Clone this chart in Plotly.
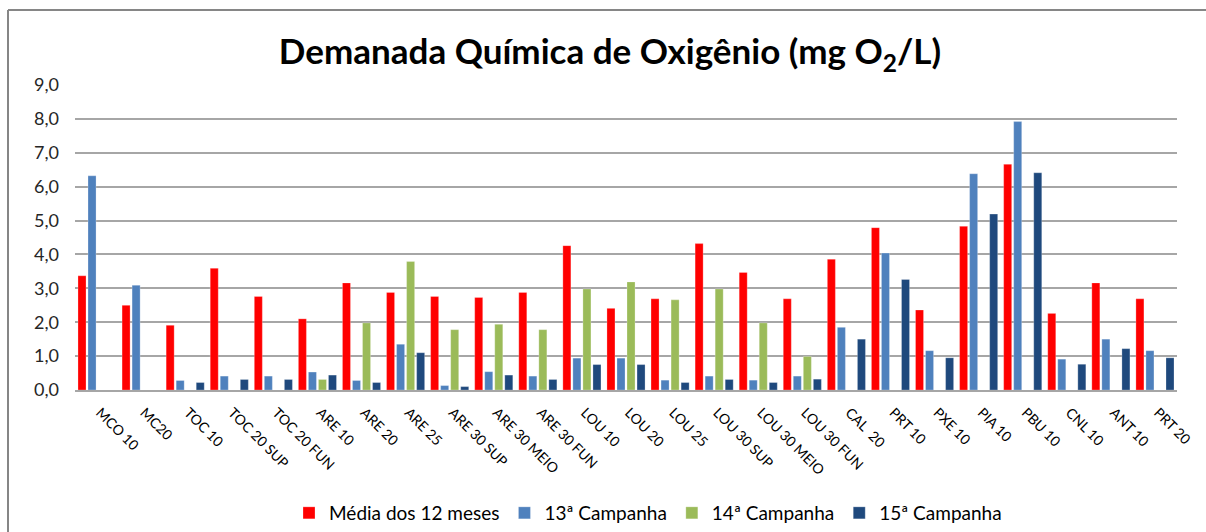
import plotly.graph_objects as go

categories = ["MCO 10", "MC20", "TOC 10", "TOC 20 SUP", "TOC 20 FUN", "ARE 10", "ARE 20",
              "ARE 25", "ARE 30 SUP", "ARE 30 MEIO", "ARE 30 FUN", "LOU 10", "LOU 20",
              "LOU 25", "LOU 30 SUP", "LOU 30 MEIO", "LOU 30 FUN", "CAL  20", "PRT 10",
              "PXE 10", "PIA 10", "PBU 10", "CNL 10", "ANT 10", "PRT 20"]

media_12_meses = [3.37, 2.50, 1.91, 3.59, 2.76, 2.10, 3.16, 2.88, 2.76, 2.73, 2.88, 4.26, 2.41,
                  2.69, 4.32, 3.47, 2.69, 3.86, 4.79, 2.36, 4.83, 6.66, 2.26, 3.16, 2.69]
campanha_13 = [6.32, 3.09, 0.28, 0.41, 0.41, 0.53, 0.28, 1.35, 0.13, 0.54, 0.41, 0.94, 0.94,
               0.29, 0.41, 0.29, 0.41, 1.85, 4.04, 1.16, 6.38, 7.92, 0.91, 1.50, 1.16]
campanha_14 = [None, None, None, None, None, 0.31, 1.98, 3.79, 1.78, 1.94, 1.78, 2.98, 3.19,
               2.66, 2.98, 1.98, 0.99, None, None, None, None, None, None, None, None]
campanha_15 = [None, None, 0.22, 0.31, 0.31, 0.44, 0.22, 1.10, 0.10, 0.44, 0.31, 0.75, 0.75,
               0.22, 0.31, 0.22, 0.32, 1.50, 3.26, 0.95, 5.19, 6.41, 0.76, 1.22, 0.95]

series = [
    ("Média dos 12 meses", media_12_meses, "#FF0000"),
    ("13ª Campanha", campanha_13, "#4F81BD"),
    ("14ª Campanha", campanha_14, "#9BBB59"),
    ("15ª Campanha", campanha_15, "#1F497D"),
]

FONT = "Lato"

fig = go.Figure()
for name, vals, color in series:
    fig.add_trace(go.Bar(
        x=categories, y=vals, name=name,
        marker=dict(color=color, line=dict(color="rgba(255,255,255,0.5)", width=0.5)),
    ))

fig.update_layout(
    width=1206, height=532,
    paper_bgcolor="white", plot_bgcolor="white",
    separators=",.",
    barmode="group", bargap=0.09, bargroupgap=0.2,
    margin=dict(l=75, r=29, t=85, b=142),
    title=dict(
        text="<b>Demanada Química de Oxigênio (mg O<sub>2</sub>/L)</b>",
        x=(610 - 75) / 1102, xref="paper", xanchor="center",
        y=1 - 52 / 532, yanchor="middle",
        font=dict(family=FONT, size=35, color="black"),
    ),
    font=dict(family=FONT, color="black"),
    legend=dict(
        orientation="h",
        xref="container", x=648 / 1206, xanchor="center",
        yref="container", y=1 - 513 / 532, yanchor="middle",
        font=dict(family=FONT, size=19, color="black"),
        traceorder="normal", itemwidth=30,
    ),
    showlegend=True,
)

fig.update_xaxes(
    tickangle=45, tickfont=dict(family=FONT, size=14, color="black"),
    showgrid=False, showline=True, linecolor="#A6A6A6", linewidth=2,
    ticks="", automargin=False, ticklabelstandoff=7, ticklabelshift=3,
)
fig.update_yaxes(
    range=[0, 9], dtick=1, tickformat=".1f",
    tickfont=dict(family=FONT, size=18, color="#262626"),
    showgrid=True, gridcolor="#A6A6A6", gridwidth=2,
    zeroline=False, showline=False, ticks="", ticklabelstandoff=15,
    automargin=False,
)

# outer chart border (top and left visible)
fig.add_shape(type="line", xref="paper", yref="paper",
              x0=(8 - 75) / 1102, x1=(1210 - 75) / 1102,
              y0=(390 - 10) / 305, y1=(390 - 10) / 305,
              line=dict(color="#868686", width=2))
fig.add_shape(type="line", xref="paper", yref="paper",
              x0=(8 - 75) / 1102, x1=(8 - 75) / 1102,
              y0=(390 - 10) / 305, y1=(390 - 540) / 305,
              line=dict(color="#868686", width=2))

post = (
    "var h=document.documentElement,b=document.body;"
    "h.style.margin='0';b.style.margin='0';b.style.padding='0';"
    "h.style.height='532px';b.style.height='532px';"
    "h.style.overflow='hidden';b.style.overflow='hidden';"
    "var d=document.querySelector('.plotly-graph-div');"
    "if(d&&d.parentElement){d.parentElement.style.height='532px';"
    "d.parentElement.style.overflow='hidden';}"
)

fig.write_html("out.html", config={"displayModeBar": False}, post_script=post)
